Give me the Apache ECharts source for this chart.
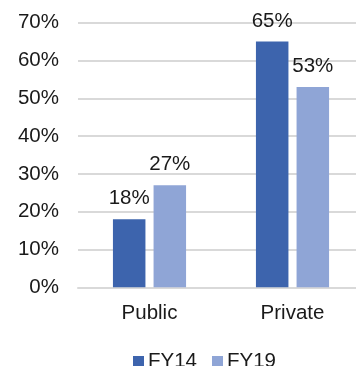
<!DOCTYPE html>
<html>
<head>
<meta charset="utf-8">
<script src="https://cdn.jsdelivr.net/npm/echarts@6/dist/echarts.min.js"></script>
<style>
  html, body { margin: 0; padding: 0; background: #ffffff; width: 356px; height: 366px; overflow: hidden; }
  /* plot area runs slightly past the right edge of the page */
  #chart { width: 364px; height: 366px; }
</style>
</head>
<body>
<div id="chart"></div>
<script>
// Share of spending by sector, FY14 vs FY19
const categories = ['Public', 'Private'];
const fy14 = [18, 65];
const fy19 = [27, 53];
const seriesNames = ['FY14', 'FY19'];
const yTicks = [0, 10, 20, 30, 40, 50, 60, 70];

const FONT = '"Liberation Sans", Arial, sans-serif';
const chart = echarts.init(document.getElementById('chart'), null, { renderer: 'canvas' });

const labelStyle = {
  show: true,
  position: 'top',
  distance: 10,
  formatter: p => p.value + '%',
  fontFamily: FONT,
  fontSize: 20.5,
  color: '#1a1a1a'
};

chart.setOption({
  animation: false,
  backgroundColor: '#ffffff',
  grid: { left: 78, right: 0, top: 22.7, bottom: 366 - 287.3, containLabel: false },
  legend: {
    data: seriesNames,
    left: 128,
    top: 346,
    itemWidth: 11,
    itemHeight: 11,
    itemGap: 15,
    icon: 'rect',
    textStyle: { fontFamily: FONT, fontSize: 20.5, color: '#1a1a1a', padding: [0, 0, 0, -1] }
  },
  xAxis: {
    type: 'category',
    data: categories,
    axisLine: { show: true, lineStyle: { color: '#d9d9d9', width: 2 } },
    axisTick: { show: false },
    axisLabel: { fontFamily: FONT, fontSize: 20.5, color: '#1a1a1a', margin: 16 }
  },
  yAxis: {
    type: 'value',
    min: yTicks[0],
    max: yTicks[yTicks.length - 1],
    interval: 10,
    axisLine: { show: false },
    axisTick: { show: false },
    splitLine: { lineStyle: { color: '#d9d9d9', width: 2 } },
    axisLabel: { fontFamily: FONT, fontSize: 20.5, color: '#1a1a1a', margin: 19, formatter: v => v + '%' }
  },
  series: [
    {
      name: seriesNames[0],
      type: 'bar',
      data: fy14,
      barWidth: 32.5,
      barGap: '25%',
      itemStyle: { color: '#3D64AD' },
      label: labelStyle
    },
    {
      name: seriesNames[1],
      type: 'bar',
      data: fy19,
      barWidth: 32.5,
      barGap: '25%',
      itemStyle: { color: '#8FA5D6' },
      label: labelStyle
    }
  ]
});
</script>
</body>
</html>
